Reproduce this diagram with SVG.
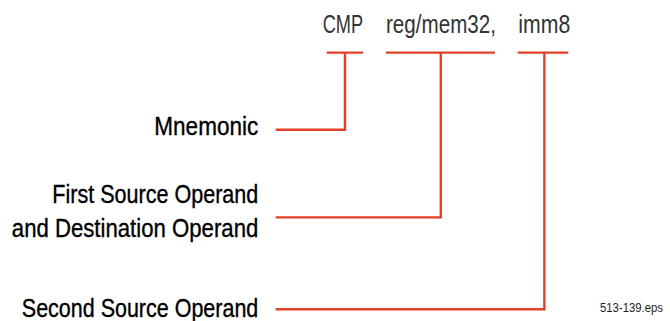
<svg xmlns="http://www.w3.org/2000/svg" width="670" height="321" viewBox="0 0 670 321">
<style>
.top{font-family:"Liberation Sans",Arial,sans-serif;font-size:25px;fill:#333;}
.lbl{font-family:"Liberation Sans",Arial,sans-serif;font-size:25px;fill:#000;text-anchor:end;stroke:#000;stroke-width:0.35px;}
.c{fill:none;stroke:#e2402b;stroke-width:2.4;stroke-linecap:butt;stroke-linejoin:miter;}
.fig{font-family:"Liberation Sans",Arial,sans-serif;font-size:12.5px;fill:#222;}
</style>
<rect width="670" height="321" fill="#fff"/>
<g id="instruction">
<text class="top" x="322.7" y="33.3" textLength="40.5" lengthAdjust="spacingAndGlyphs">CMP</text>
<text class="top" x="386" y="33.3" textLength="110" lengthAdjust="spacingAndGlyphs">reg/mem32,</text>
<text class="top" x="518.3" y="33.3" textLength="52" lengthAdjust="spacingAndGlyphs">imm8</text>
</g>
<g id="mnemonic">
<text class="lbl" x="258.3" y="135" textLength="104" lengthAdjust="spacingAndGlyphs">Mnemonic</text>
</g>
<g id="first-source">
<text class="lbl" x="258.3" y="203.3" textLength="206" lengthAdjust="spacingAndGlyphs">First Source Operand</text>
<text class="lbl" x="258.3" y="236.7" textLength="246.5" lengthAdjust="spacingAndGlyphs">and Destination Operand</text>
</g>
<g id="second-source">
<text class="lbl" x="258.3" y="316.5" textLength="236.5" lengthAdjust="spacingAndGlyphs">Second Source Operand</text>
</g>
<g id="fig-label">
<text class="fig" x="600" y="311.5" textLength="63" lengthAdjust="spacingAndGlyphs">513-139.eps</text>
</g>
<g id="connectors">
<line class="c" x1="326.7" y1="52.6" x2="363.3" y2="52.6"/>
<polyline class="c" points="345,52.6 345,129.8 275.7,129.8"/>
<line class="c" x1="386" y1="52.6" x2="495" y2="52.6"/>
<polyline class="c" points="440.8,52.6 440.8,217.4 275.7,217.4"/>
<line class="c" x1="517.8" y1="52.6" x2="568.3" y2="52.6"/>
<polyline class="c" points="544.4,52.6 544.4,309.2 275.7,309.2"/>
</g>
</svg>
